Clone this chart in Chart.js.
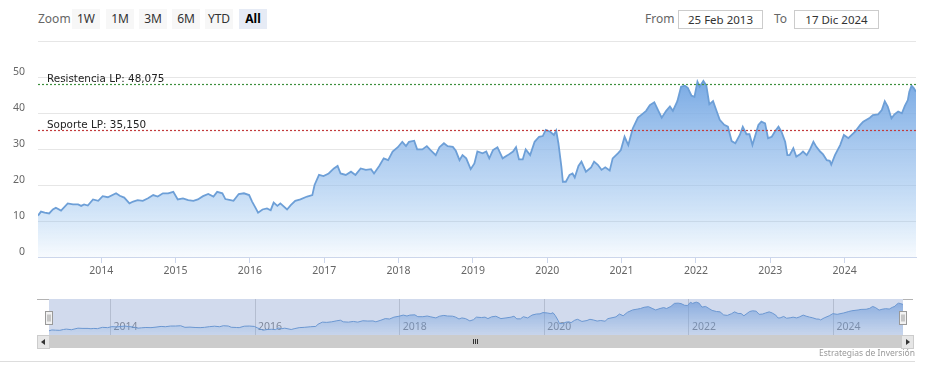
<!DOCTYPE html>
<html lang="es">
<head>
<meta charset="UTF-8">
<title>Cotización</title>
<script src="https://cdn.jsdelivr.net/npm/chart.js"></script>
<style>
    body { margin: 0; background: #fff; font-family: "Noto Sans", sans-serif; }
    #wrap { position: relative; width: 925px; height: 378px; overflow: hidden; }
    canvas { position: absolute; left: 0; }
    .lbl { position: absolute; font-size: 12px; color: #666; line-height: 20px; }
    .btn { position: absolute; top: 9px; width: 28px; height: 20px; line-height: 20px; text-align: center;
           font-size: 12px; color: #333; background: #f7f7f7; }
    .btn.sel { background: #e6ebf5; font-weight: bold; color: #000; }
    .inp { position: absolute; top: 10px; width: 83px; height: 17px; line-height: 17px; text-align: center;
           font-size: 11.5px; color: #333; border: 1px solid #ccc; background: #fff; }
    #track { position: absolute; left: 37px; top: 335px; width: 876px; height: 13px; background: #f2f2f2; }
    #thumb { position: absolute; left: 49px; top: 335px; width: 852px; height: 13px; background: #cccccc; }
    .arrow { position: absolute; top: 335px; width: 11px; height: 12px; background: #e6e6e6; border: 1px solid #ccc; }
    .grip { position: absolute; top: 339px; width: 1px; height: 5px; background: #333; }
    #sep { position: absolute; left: 0; top: 361px; width: 915px; height: 1px; background: #ddd; }
    #credits { position: absolute; right: 10px; top: 347px; font-size: 8.5px; color: #999; }
</style>
</head>
<body>
<div id="wrap">
    <!-- range selector -->
    <div class="lbl" style="left:38px; top:9px;">Zoom</div>
    <div class="btn" style="left:72px;">1W</div>
    <div class="btn" style="left:106px;">1M</div>
    <div class="btn" style="left:139px;">3M</div>
    <div class="btn" style="left:172px;">6M</div>
    <div class="btn" style="left:205px;">YTD</div>
    <div class="btn sel" style="left:239px;">All</div>

    <div class="lbl" style="left:645px; top:9px;">From</div>
    <div class="inp" style="left:678px;">25 Feb 2013</div>
    <div class="lbl" style="left:774px; top:9px;">To</div>
    <div class="inp" style="left:794px;">17 Dic 2024</div>

    <canvas id="mainChart" width="925" height="290" style="top:0;"></canvas>
    <canvas id="navChart" width="925" height="45" style="top:295px;"></canvas>

    <!-- scrollbar -->
    <div id="track"></div>
    <div id="thumb"></div>
    <div class="arrow" style="left:37px;"><div style="position:absolute;left:3px;top:3px;border-right:4px solid #333;border-top:3px solid transparent;border-bottom:3px solid transparent;"></div></div>
    <div class="arrow" style="left:901px;"><div style="position:absolute;left:4px;top:3px;border-left:4px solid #333;border-top:3px solid transparent;border-bottom:3px solid transparent;"></div></div>
    <div class="grip" style="left:473px;"></div>
    <div class="grip" style="left:475px;"></div>
    <div class="grip" style="left:477px;"></div>

    <div id="sep"></div>
    <div id="credits">Estrategias de Inversión</div>
</div>

<script>
    // Dates as decimal years, prices
    const years = [
        2013.15, 2013.19, 2013.24, 2013.30, 2013.35, 2013.39, 2013.46, 2013.55, 2013.62, 2013.69, 2013.73, 2013.77, 2013.82, 2013.89, 2013.96,
        2014.02, 2014.09, 2014.20, 2014.25, 2014.31, 2014.38, 2014.43, 2014.49, 2014.56, 2014.63, 2014.70, 2014.76, 2014.83, 2014.90, 2014.97,
        2015.03, 2015.10, 2015.17, 2015.24, 2015.30, 2015.37, 2015.44, 2015.51, 2015.56, 2015.63, 2015.67, 2015.74, 2015.78, 2015.85, 2015.92, 2015.99,
        2016.03, 2016.08, 2016.11, 2016.17, 2016.23, 2016.28, 2016.32, 2016.37, 2016.41, 2016.50, 2016.55, 2016.61, 2016.68, 2016.77, 2016.84, 2016.87, 2016.93, 2016.99,
        2017.06, 2017.13, 2017.18, 2017.22, 2017.29, 2017.36, 2017.42, 2017.49, 2017.56, 2017.63, 2017.67, 2017.74, 2017.80, 2017.86, 2017.92, 2017.99,
        2018.05, 2018.10, 2018.14, 2018.21, 2018.25, 2018.32, 2018.38, 2018.43, 2018.50, 2018.55, 2018.61, 2018.66, 2018.73, 2018.77, 2018.82, 2018.86, 2018.91, 2018.97,
        2019.02, 2019.06, 2019.13, 2019.18, 2019.22, 2019.27, 2019.33, 2019.40, 2019.47, 2019.54, 2019.58, 2019.62, 2019.67, 2019.71, 2019.77, 2019.83, 2019.89, 2019.94, 2019.98,
        2020.04, 2020.09, 2020.12, 2020.15, 2020.19, 2020.21, 2020.25, 2020.30, 2020.34, 2020.37, 2020.42, 2020.46, 2020.52, 2020.59, 2020.63, 2020.68, 2020.73, 2020.78, 2020.84, 2020.88, 2020.95, 2020.99,
        2021.04, 2021.09, 2021.15, 2021.22, 2021.29, 2021.33, 2021.38, 2021.44, 2021.49, 2021.54, 2021.60, 2021.65, 2021.69, 2021.75, 2021.80, 2021.85, 2021.89, 2021.94, 2021.98,
        2022.02, 2022.05, 2022.10, 2022.14, 2022.18, 2022.23, 2022.28, 2022.32, 2022.38, 2022.43, 2022.48, 2022.53, 2022.59, 2022.63, 2022.68, 2022.72, 2022.76, 2022.84, 2022.88, 2022.93, 2022.97,
        2023.02, 2023.06, 2023.11, 2023.15, 2023.20, 2023.23, 2023.26, 2023.31, 2023.35, 2023.40, 2023.44, 2023.49, 2023.53, 2023.58, 2023.62, 2023.67, 2023.71, 2023.76, 2023.80, 2023.82, 2023.87, 2023.94, 2023.99,
        2024.05, 2024.14, 2024.21, 2024.25, 2024.34, 2024.38, 2024.45, 2024.50, 2024.54, 2024.58, 2024.63, 2024.67, 2024.72, 2024.77, 2024.81, 2024.85, 2024.87, 2024.90, 2024.93, 2024.96
    ];
    const prices = [
        11.5, 12.6, 12.3, 12.1, 13.2, 13.7, 12.9, 14.9, 14.6, 14.6, 14.2, 14.6, 14.3, 16.0, 15.6,
        16.9, 16.6, 17.7, 17.0, 16.5, 14.9, 15.4, 15.8, 15.6, 16.3, 17.2, 16.8, 17.7, 17.7, 18.1,
        16.0, 16.3, 15.8, 15.6, 16.0, 16.9, 17.5, 16.8, 18.1, 17.7, 16.1, 15.8, 15.6, 17.5, 17.7, 17.2,
        15.4, 13.5, 12.3, 13.2, 13.5, 13.0, 15.1, 14.2, 14.9, 13.2, 14.4, 15.6, 16.0, 16.8, 17.2, 20.0, 22.8, 22.5,
        23.2, 24.6, 25.3, 23.2, 22.8, 23.7, 22.8, 24.6, 24.2, 24.4, 23.2, 25.3, 27.4, 26.9, 29.3, 30.5,
        32.0, 30.8, 32.0, 32.3, 29.9, 29.9, 30.8, 29.7, 28.3, 30.5, 31.6, 30.8, 30.6, 29.5, 26.9, 28.3, 27.4, 24.4,
        26.0, 29.3, 28.8, 29.3, 27.4, 29.7, 30.5, 27.4, 28.3, 29.3, 30.5, 27.1, 27.1, 29.9, 28.3, 32.0, 33.4, 33.6, 35.3,
        34.8, 33.9, 35.1, 31.6, 25.1, 20.9, 20.9, 22.8, 23.2, 22.1, 25.3, 26.5, 23.7, 24.9, 26.5, 25.6, 24.2, 24.9, 24.0, 27.4, 28.8, 29.7,
        33.4, 31.1, 35.7, 38.7, 39.9, 40.6, 42.2, 43.0, 40.8, 38.7, 40.6, 41.8, 40.6, 43.3, 47.3, 47.6, 47.0, 44.8, 44.5,
        48.7, 47.3, 48.9, 47.6, 42.4, 43.3, 40.4, 38.1, 36.7, 36.2, 32.2, 31.6, 33.9, 36.2, 34.1, 34.1, 31.1, 36.7, 37.6, 37.1, 33.0,
        33.4, 34.8, 36.2, 34.8, 32.0, 28.3, 28.3, 30.2, 27.9, 28.5, 29.3, 28.3, 29.7, 32.0, 30.6, 29.3, 28.5, 26.9, 26.7, 25.7, 28.3, 31.1, 33.9,
        33.0, 34.8, 36.7, 37.6, 38.7, 39.4, 39.6, 40.8, 43.3, 41.8, 38.5, 39.6, 40.4, 39.9, 42.0, 43.6, 45.9, 47.6, 46.9, 45.9
    ];

    // Long-term resistance / support levels
    const levelNames = ["Resistencia LP", "Soporte LP"];
    const levelValues = [48.075, 35.15];
    const levelColors = ["#3d8f3d", "#c23a3c"];

    const points = years.map((x, i) => ({ x: x, y: prices[i] }));
    const xMin = years[0];
    const xMax = years[years.length - 1];

    // dotted plot lines with their labels
    const levelLinesPlugin = {
        id: 'levelLines',
        afterDatasetsDraw(chart) {
            const { ctx, chartArea, scales } = chart;
            ctx.save();
            levelValues.forEach((v, i) => {
                const y = Math.round(scales.y.getPixelForValue(v)) + 0.5;
                ctx.strokeStyle = levelColors[i];
                ctx.lineWidth = 1.2;
                ctx.setLineDash([2, 2]);
                ctx.beginPath();
                ctx.moveTo(chartArea.left, y);
                ctx.lineTo(chartArea.right, y);
                ctx.stroke();
                ctx.setLineDash([]);
                ctx.fillStyle = '#222';
                ctx.font = '10.4px "DejaVu Sans"';
                ctx.textBaseline = 'alphabetic';
                ctx.fillText(levelNames[i] + ': ' + v.toFixed(3).replace('.', ','), chartArea.left + 9, y - 3);
            });
            ctx.restore();
        }
    };

    function areaFill(context, top, bottom) {
        const chart = context.chart;
        if (!chart.chartArea) return null;
        const g = chart.ctx.createLinearGradient(0, chart.chartArea.top, 0, chart.chartArea.bottom);
        g.addColorStop(0, top);
        g.addColorStop(1, bottom);
        return g;
    }

    // Main chart
    new Chart(document.getElementById('mainChart'), {
        type: 'line',
        data: {
            datasets: [{
                data: points,
                borderColor: '#6d9fd7',
                borderWidth: 1.8,
                pointRadius: 0,
                tension: 0,
                fill: 'origin',
                backgroundColor: function(context) {
                    const chart = context.chart;
                    if (!chart.chartArea) return null;
                    const y = chart.scales.y;
                    const g = chart.ctx.createLinearGradient(0, y.getPixelForValue(50), 0, y.getPixelForValue(0));
                    g.addColorStop(0, 'rgba(112,164,226,0.95)');
                    g.addColorStop(0.5, 'rgba(150,190,236,0.7)');
                    g.addColorStop(1, 'rgba(124,181,236,0.06)');
                    return g;
                }
            }]
        },
        options: {
            responsive: false,
            animation: false,
            layout: { padding: { top: 41, right: 9, left: 0, bottom: 0 } },
            plugins: { legend: { display: false }, tooltip: { enabled: false } },
            scales: {
                x: {
                    type: 'linear',
                    min: xMin,
                    max: xMax,
                    ticks: {
                        stepSize: 1,
                        includeBounds: false,
                        autoSkip: false,
                        maxRotation: 0,
                        padding: 2,
                        color: '#666',
                        font: { family: 'Noto Sans', size: 10.5 },
                        callback: v => String(Math.round(v))
                    },
                    grid: { drawOnChartArea: false, tickLength: 6, color: '#ccd6eb' },
                    border: { color: '#ccd6eb' },
                    afterFit: s => { s.height = 33; }
                },
                y: {
                    min: 0,
                    max: 60,
                    ticks: {
                        stepSize: 10,
                        padding: 13,
                        labelOffset: -5,
                        color: '#666',
                        font: { family: 'Noto Sans', size: 10.5 },
                        callback: v => v === 60 ? '' : v
                    },
                    grid: { color: '#e6e6e6', drawTicks: false },
                    border: { display: false },
                    afterFit: s => { s.width = 38; }
                }
            }
        },
        plugins: [levelLinesPlugin]
    });

    // Navigator: labels under series, mask + handles on top
    const navigatorPlugin = {
        id: 'navigatorDeco',
        beforeDatasetsDraw(chart) {
            const { ctx, chartArea, scales } = chart;
            ctx.save();
            ctx.fillStyle = '#888';
            ctx.font = '10.5px "Noto Sans"';
            ctx.textBaseline = 'middle';
            scales.x.ticks.forEach(t => {
                const px = scales.x.getPixelForValue(t.value);
                ctx.fillText(String(Math.round(t.value)), px + 3, chartArea.bottom - 8);
            });
            ctx.restore();
        },
        afterDatasetsDraw(chart) {
            const { ctx, chartArea } = chart;
            const l = chartArea.left, r = chartArea.right, t = chartArea.top, b = chartArea.bottom;
            ctx.save();
            ctx.fillStyle = 'rgba(102,133,194,0.3)';
            ctx.fillRect(l, t, r - l, b - t);
            ctx.strokeStyle = '#b3b3b3';
            ctx.lineWidth = 1;
            ctx.beginPath();
            ctx.moveTo(37, t + 0.5); ctx.lineTo(l, t + 0.5);
            ctx.moveTo(r, t + 0.5); ctx.lineTo(913, t + 0.5);
            ctx.stroke();
            [l, r].forEach(x => {
                const hx = Math.round(x) - 3.5, hy = t + 12.5;
                ctx.fillStyle = '#f2f2f2';
                ctx.fillRect(hx, hy, 7, 13);
                ctx.strokeStyle = '#999';
                ctx.strokeRect(hx, hy, 7, 13);
                ctx.beginPath();
                ctx.moveTo(hx + 2.5, hy + 3); ctx.lineTo(hx + 2.5, hy + 10);
                ctx.moveTo(hx + 4.5, hy + 3); ctx.lineTo(hx + 4.5, hy + 10);
                ctx.stroke();
            });
            ctx.restore();
        }
    };

    new Chart(document.getElementById('navChart'), {
        type: 'line',
        data: {
            datasets: [{
                data: points,
                borderColor: '#6d9fd7',
                borderWidth: 1,
                pointRadius: 0,
                tension: 0,
                fill: 'origin',
                backgroundColor: ctx => areaFill(ctx, 'rgba(110,160,225,0.75)', 'rgba(124,181,236,0.1)')
            }]
        },
        options: {
            responsive: false,
            animation: false,
            layout: { padding: { top: 4, right: 22, left: 49, bottom: 5 } },
            plugins: { legend: { display: false }, tooltip: { enabled: false } },
            scales: {
                x: {
                    type: 'linear',
                    min: xMin,
                    max: xMax,
                    ticks: { display: false, stepSize: 2, includeBounds: false },
                    grid: { drawTicks: false, color: '#d6d6d6' },
                    border: { display: false },
                    afterFit: s => { s.height = 0; }
                },
                y: { display: false, min: 6, max: 53 }
            }
        },
        plugins: [navigatorPlugin]
    });
</script>
</body>
</html>
